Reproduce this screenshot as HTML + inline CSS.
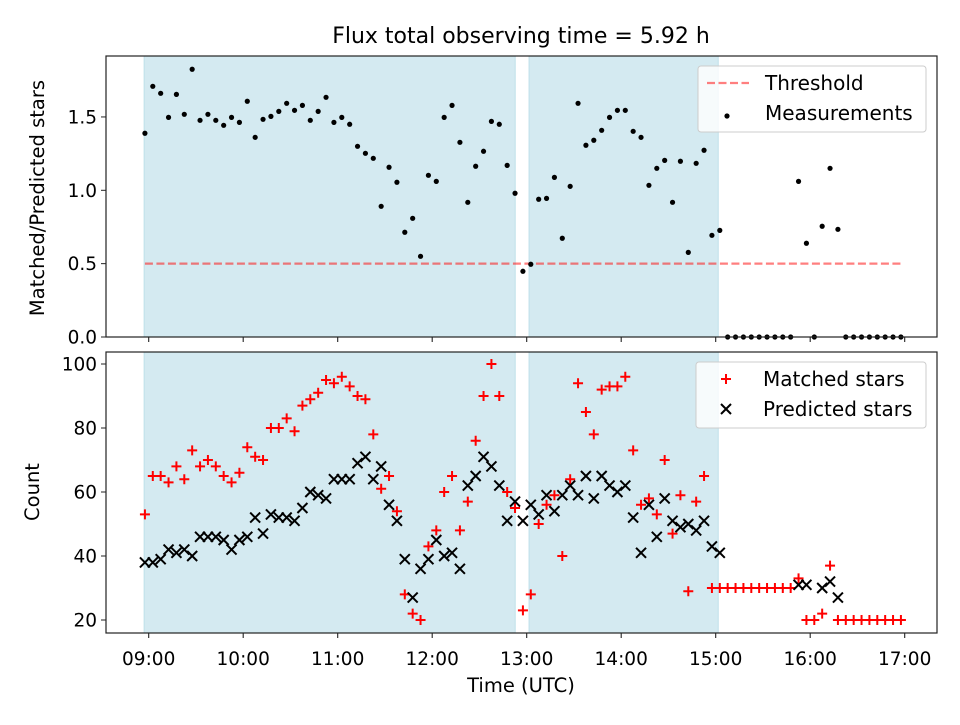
<!DOCTYPE html>
<html><head><meta charset="utf-8"><style>
body{margin:0;background:#fff}
svg text{font-family:"DejaVu Sans","Liberation Sans",sans-serif;fill:#000}
</style></head><body>
<svg id="chart" width="960" height="720" viewBox="0 0 960 720" xmlns="http://www.w3.org/2000/svg"></svg>
<script>
// minutes relative to 09:00 (first sample at 08:57.6, 5-min cadence)
const startMin = -2.4;
const sampleIdx = [0,1,2,3,4,5,6,7,8,9,10,11,12,13,14,15,16,17,18,19,20,21,22,23,24,25,26,27,28,29,30,31,32,33,34,35,36,37,38,39,40,41,42,43,44,45,46,47,48,49,50,51,52,53,54,55,56,57,58,59,60,61,62,63,64,65,66,67,68,69,70,71,72,73,74,75,76,77,78,79,80,81,82,83,84,85,86,87,88,89,90,91,92,93,94,95,96];
const ratio = [1.389,1.709,1.661,1.497,1.654,1.518,1.825,1.477,1.518,1.477,1.443,1.497,1.463,1.607,1.361,1.484,1.504,1.538,1.593,1.545,1.579,1.477,1.538,1.634,1.463,1.497,1.450,1.300,1.252,1.218,0.891,1.157,1.055,0.714,0.809,0.550,1.102,1.061,1.497,1.579,1.327,0.918,1.164,1.266,1.470,1.450,1.170,0.980,0.448,0.496,0.939,0.945,1.088,0.673,1.027,1.593,1.307,1.341,1.409,1.497,1.545,1.545,1.402,1.361,1.034,1.150,1.204,0.918,1.198,0.577,1.184,1.273,0.693,0.727,0,0,0,0,0,0,0,0,0,1.061,0.639,0,0.755,1.150,0.734,0,0,0,0,0,0,0,0];
const matched = [53,65,65,63,68,64,73,68,70,68,65,63,66,74,71,70,80,80,83,79,87,89,91,95,94,96,93,90,89,78,61,65,54,28,22,20,43,48,60,65,48,57,76,90,100,90,60,55,23,28,50,56,59,40,64,94,85,78,92,93,93,96,73,56,58,53,70,47,59,29,57,65,30,30,30,30,30,30,30,30,30,30,30,33,20,20,22,37,20,20,20,20,20,20,20,20,20];
const predicted = [38,38,39,42,41,42,40,46,46,46,45,42,45,46,52,47,53,52,52,51,55,60,59,58,64,64,64,69,71,64,68,56,51,39,27,36,39,45,40,41,36,62,65,71,68,62,51,57,51,56,53,59,54,59,62,59,65,58,65,62,60,62,52,41,56,46,58,51,49,50,48,51,43,41,null,null,null,null,null,null,null,null,null,31,31,null,30,32,27,null,null,null,null,null,null,null,null];
const spans = [[-2.9,232.7],[241.5,361.6]];
const threshold = 0.5;
const xTickMin = [0,60,120,180,240,300,360,420,480];
const xTickLabels = ["09:00","10:00","11:00","12:00","13:00","14:00","15:00","16:00","17:00"];
const yTopTicks = [0,0.5,1.0,1.5];
const yTopLabels = ["0.0","0.5","1.0","1.5"];
const yBotTicks = [20,40,60,80,100];

const svg = document.getElementById('chart');
const NS = 'http://www.w3.org/2000/svg';
function mk(tag, attrs, parent){const e=document.createElementNS(NS,tag);for(const k in attrs)e.setAttribute(k,attrs[k]);(parent||svg).appendChild(e);return e;}
const L=106,R=937;
const TF=18.5, LF=19.5, GF=20;
const xS = m => 148.7 + (m)*94.5/60;
const T1=56,B1=337, yTop = v => 337 - v*146.7;
const T2=352,B2=633, yBot = v => 620 - (v-20)*3.2;
const tMin = i => startMin + 5*sampleIdx[i];

function panel(T,B,name){
  const g=mk('g',{});
  
  
  spans.forEach(s=>{
    const r=mk('rect',{x:xS(s[0]),y:T,width:xS(s[1])-xS(s[0]),height:B-T,fill:'#d4eaf1',stroke:'#bfe0ea','stroke-width':1},g);
    
    
  });
  return g;
}
function frame(T,B,g,xlabels){
  mk('rect',{x:L,y:T,width:R-L,height:B-T,fill:'none',stroke:'#222','stroke-width':1.2},g);
  xTickMin.forEach((m,i)=>{
    mk('line',{x1:xS(m),x2:xS(m),y1:B,y2:B+5,stroke:'#222','stroke-width':1.1},g);
    if(xlabels){const t=mk('text',{x:xS(m),y:B+32,'text-anchor':'middle','font-size':TF},g);t.textContent=xTickLabels[i];
      
      }
  });
}
// top panel
const g1=panel(T1,B1,'ratio-panel');
const thr=mk('line',{x1:xS(tMin(0)),x2:xS(tMin(96)),y1:yTop(threshold),y2:yTop(threshold),stroke:'#ff0000','stroke-opacity':0.5,'stroke-width':2.2,'stroke-dasharray':'8,3.5'},g1);


ratio.forEach((v,i)=>{
  const c=mk('circle',{cx:xS(tMin(i)),cy:yTop(v),r:2.6,fill:'#000'},g1);
  
  
});
frame(T1,B1,g1,false);
yTopTicks.forEach((v,i)=>{
  mk('line',{x1:L-5,x2:L,y1:yTop(v),y2:yTop(v),stroke:'#222'},g1);
  const t=mk('text',{x:L-9,y:yTop(v)+6.5,'text-anchor':'end','font-size':TF},g1);t.textContent=yTopLabels[i];
  
  
});
const yl1=mk('text',{x:0,y:0,'text-anchor':'middle','font-size':LF,transform:'translate(44,198) rotate(-90)'});
yl1.textContent='Matched/Predicted stars';



// bottom panel
const g2=panel(T2,B2,'count-panel');
matched.forEach((v,i)=>{
  const x=xS(tMin(i)),y=yBot(v);
  const p=mk('path',{d:`M${x-5},${y}H${x+5}M${x},${y-5}V${y+5}`,stroke:'#ff0000','stroke-width':2},g2);
  
  
});
predicted.forEach((v,i)=>{
  if(v===null)return;
  const x=xS(tMin(i)),y=yBot(v);
  const p=mk('path',{d:`M${x-5},${y-5}L${x+5},${y+5}M${x-5},${y+5}L${x+5},${y-5}`,stroke:'#000','stroke-width':2},g2);
  
  
});
frame(T2,B2,g2,true);
yBotTicks.forEach(v=>{
  mk('line',{x1:L-5,x2:L,y1:yBot(v),y2:yBot(v),stroke:'#222'},g2);
  const t=mk('text',{x:L-9,y:yBot(v)+6.5,'text-anchor':'end','font-size':TF},g2);t.textContent=v;
  
  
});
const yl2=mk('text',{x:0,y:0,'text-anchor':'middle','font-size':LF,transform:'translate(39,492) rotate(-90)'});
yl2.textContent='Count';


const xl=mk('text',{x:521,y:692,'text-anchor':'middle','font-size':LF});
xl.textContent='Time (UTC)';



const title = mk('text',{x:521,y:43,'text-anchor':'middle','font-size':22});
title.textContent='Flux total observing time = 5.92 h';



// legends
const lg1=mk('g',{});


mk('rect',{x:698,y:66,width:228,height:66,rx:3,fill:'#fff','fill-opacity':0.8,stroke:'#ccc'},lg1);
mk('line',{x1:707,x2:749,y1:83,y2:83,stroke:'#ff0000','stroke-opacity':0.5,'stroke-width':2.2,'stroke-dasharray':'8,3.5'},lg1);
let t=mk('text',{x:765,y:90,'font-size':GF},lg1);t.textContent='Threshold';
mk('circle',{cx:727,cy:116,r:2.6,fill:'#000'},lg1);
t=mk('text',{x:765,y:120,'font-size':GF},lg1);t.textContent='Measurements';
const lg2=mk('g',{});


mk('rect',{x:696,y:362,width:230,height:66,rx:3,fill:'#fff','fill-opacity':0.8,stroke:'#ccc'},lg2);
mk('path',{d:'M721,379H731M726,374V384',stroke:'#ff0000','stroke-width':2},lg2);
t=mk('text',{x:763,y:386,'font-size':GF},lg2);t.textContent='Matched stars';
mk('path',{d:'M721,404L731,414M721,414L731,404',stroke:'#000','stroke-width':2},lg2);
t=mk('text',{x:763,y:416,'font-size':GF},lg2);t.textContent='Predicted stars';
</script>
</body></html>
